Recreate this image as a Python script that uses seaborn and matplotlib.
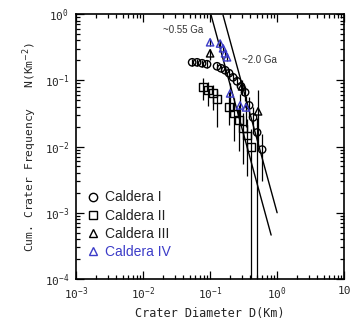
import matplotlib
matplotlib.use("Agg")
import matplotlib.pyplot as plt
from matplotlib.lines import Line2D
from matplotlib.ticker import LogLocator, FixedLocator, FixedFormatter, NullFormatter
import seaborn as sns
import pandas as pd
import numpy as np

# Caldera I (circles)
d1 = [0.054, 0.064, 0.076, 0.090, 0.127, 0.146, 0.168, 0.192, 0.220, 0.253, 0.290, 0.333, 0.382, 0.438, 0.503, 0.597]
n1 = [0.187, 0.187, 0.181, 0.175, 0.163, 0.152, 0.142, 0.128, 0.111, 0.0966, 0.081, 0.0658, 0.0418, 0.0275, 0.0163, 0.0090]
lo1 = [0.165, 0.165, 0.160, 0.155, 0.145, 0.135, 0.125, 0.110, 0.093, 0.078, 0.063, 0.049, 0.028, 0.016, 1e-5, 0.0030]
hi1 = [0.210, 0.210, 0.205, 0.200, 0.185, 0.172, 0.162, 0.148, 0.130, 0.116, 0.100, 0.083, 0.056, 0.039, 0.027, 0.0155]

# Caldera II (squares)
d2 = [0.0786, 0.0933, 0.111, 0.127, 0.192, 0.228, 0.271, 0.311, 0.357, 0.409]
n2 = [0.0783, 0.0705, 0.0635, 0.0515, 0.039, 0.0316, 0.0248, 0.0187, 0.0147, 0.0097]
lo2 = [0.0499, 0.0404, 0.0351, 0.0194, 0.0208, 0.0123, 0.0087, 0.0055, 0.0036, 1e-5]
hi2 = [0.107, 0.0933, 0.084, 0.0705, 0.0658, 0.0533, 0.0418, 0.0316, 0.0263, 0.0187]

# Caldera III (black triangles)
d3 = [0.100, 0.30, 0.52]
n3 = [0.256, 0.081, 0.034]
lo3 = [0.20, 0.060, 0.0097]
hi3 = [0.30, 0.100, 0.0705]

# Caldera IV (blue triangles)
d4 = [0.100, 0.141, 0.156, 0.167, 0.179, 0.199, 0.280, 0.344]
n4 = [0.376, 0.360, 0.305, 0.256, 0.223, 0.0635, 0.0418, 0.039]
lo4 = [0.33, 0.32, 0.27, 0.225, 0.195, 0.0275, 0.022, 0.020]
hi4 = [0.42, 0.40, 0.34, 0.29, 0.255, 0.090, 0.062, 0.058]

# isochron fit lines
line_055_d = [0.1035, 0.814]
line_055_n = [0.966, 4.6e-4]
line_20_d = [0.156, 1.0]
line_20_n = [0.966, 1.0e-3]

x_ticks = [1e-3, 1e-2, 1e-1, 1e0, 1e1]
x_labels = [r"$\mathdefault{10^{-3}}$", r"$\mathdefault{10^{-2}}$", r"$\mathdefault{10^{-1}}$",
            r"$\mathdefault{10^{0}}$", "10"]
y_ticks = [1e-4, 1e-3, 1e-2, 1e-1, 1e0]
y_labels = [r"$\mathdefault{10^{-4}}$", r"$\mathdefault{10^{-3}}$", r"$\mathdefault{10^{-2}}$",
            r"$\mathdefault{10^{-1}}$", r"$\mathdefault{10^{0}}$"]

blue = "#3c3cc8"

sns.set_style("ticks")
plt.rcParams["font.family"] = ["DejaVu Sans Mono"]

fig = plt.figure(figsize=(3.57, 3.21), dpi=100)
ax = fig.add_axes([0.213, 0.131, 0.751, 0.825])
ax.set_xscale("log")
ax.set_yscale("log")

series = [
    (d1, n1, lo1, hi1, "o", "black", 28),
    (d2, n2, lo2, hi2, "s", "black", 32),
    (d3, n3, lo3, hi3, "^", "black", 28),
    (d4, n4, lo4, hi4, "^", blue, 28),
]
for d, n, lo, hi, m, c, s in series:
    n_arr = np.array(n)
    yerr = [n_arr - np.array(lo), np.array(hi) - n_arr]
    ax.errorbar(d, n, yerr=yerr, fmt="none", ecolor="black", elinewidth=0.9, capsize=0)
    df = pd.DataFrame({"D": d, "N": n})
    sns.scatterplot(data=df, x="D", y="N", marker=m, s=s, facecolor="none",
                    edgecolor=c, linewidth=1.0, ax=ax, zorder=3)

sns.lineplot(x=line_055_d, y=line_055_n, color="black", lw=1.0, ax=ax)
sns.lineplot(x=line_20_d, y=line_20_n, color="black", lw=1.0, ax=ax)

ax.text(0.0199, 0.57, "~0.55 Ga", fontsize=7, family=["Liberation Sans"], ha="left", va="center", color="#333333")
ax.text(0.30, 0.20, "~2.0 Ga", fontsize=7, family=["Liberation Sans"], ha="left", va="center", color="#333333")

ax.set_xlim(1e-3, 1e1)
ax.set_ylim(1e-4, 1e0)
ax.xaxis.set_major_locator(FixedLocator(x_ticks))
ax.xaxis.set_major_formatter(FixedFormatter(x_labels))
ax.yaxis.set_major_locator(FixedLocator(y_ticks))
ax.yaxis.set_major_formatter(FixedFormatter(y_labels))
ax.xaxis.set_minor_locator(LogLocator(base=10, subs=np.arange(2, 10), numticks=20))
ax.yaxis.set_minor_locator(LogLocator(base=10, subs=np.arange(2, 10), numticks=20))
ax.xaxis.set_minor_formatter(NullFormatter())
ax.yaxis.set_minor_formatter(NullFormatter())
ax.tick_params(which="both", direction="in", top=True, right=True, width=0.9, labelsize=8, color="black")
ax.tick_params(which="major", length=6, pad=5)
ax.tick_params(which="minor", length=3)
for sp in ax.spines.values():
    sp.set_linewidth(1.2)
    sp.set_color("black")

ax.set_xlabel("Crater Diameter D(Km)", fontsize=8.5, labelpad=3)
ax.set_ylabel(r"Cum. Crater Frequency   N(Km$^{-2}$)", fontsize=8.2, labelpad=4)

handles = [
    Line2D([], [], marker="o", ls="none", mfc="none", mec="black", ms=6),
    Line2D([], [], marker="s", ls="none", mfc="none", mec="black", ms=6),
    Line2D([], [], marker="^", ls="none", mfc="none", mec="black", ms=6),
    Line2D([], [], marker="^", ls="none", mfc="none", mec=blue, ms=6),
]
labels = ["Caldera I", "Caldera II", "Caldera III", "Caldera IV"]
leg = ax.legend(handles, labels, loc="upper left", bbox_to_anchor=(0.02, 0.355), frameon=False,
                prop={"family": ["Liberation Sans"], "size": 10}, handlelength=0.8,
                handletextpad=0.5, labelspacing=0.3, borderaxespad=0)
for t, c in zip(leg.get_texts(), ["#222222", "#222222", "#222222", blue]):
    t.set_color(c)

fig.savefig("out.png", dpi=100)
